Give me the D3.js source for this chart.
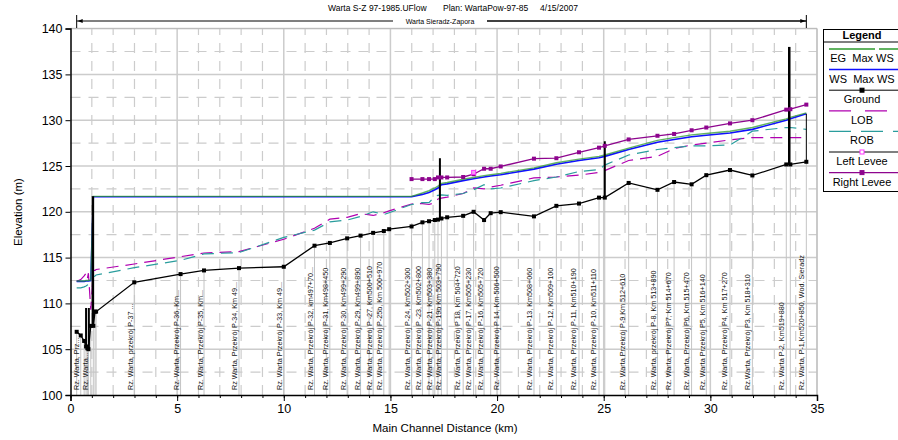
<!DOCTYPE html>
<html>
<head>
<meta charset="utf-8">
<script src="https://cdn.jsdelivr.net/npm/d3@7"></script>
<style>
  html, body { margin: 0; padding: 0; background: #ffffff; }
  svg text { font-family: "Liberation Sans", Arial, Helvetica, sans-serif; }
</style>
</head>
<body>
<svg id="chart" width="898" height="440"></svg>
<script>
// stations along main channel (km) shared by the profile series
const stationKm = [0.29, 0.48, 0.64, 0.73, 0.79, 0.84, 0.95, 1.07, 1.15, 1.20, 2.99, 5.16, 6.26, 7.90, 10.00,
  11.44, 12.16, 12.97, 13.60, 14.19, 14.69, 14.94, 15.99, 16.50, 16.81, 17.08, 17.23, 17.39, 17.66, 18.41,
  18.90, 19.39, 19.70, 20.17, 21.73, 22.78, 23.84, 24.78, 25.05, 26.17, 27.52, 28.30, 29.12, 29.81, 30.92,
  31.97, 33.56, 33.75, 34.50];

const ground = [106.9, 106.5, 105.9, 105.3, 105.1, 105.0, 107.55, 107.55, 109.1, 109.1, 112.3, 113.2, 113.6, 113.85, 114.0,
  116.3, 116.6, 117.1, 117.4, 117.7, 117.9, 118.1, 118.4, 118.85, 118.97, 119.1, 119.15, 119.27, 119.4, 119.56,
  120.0, 119.1, 119.85, 119.96, 119.5, 120.65, 120.9, 121.55, 121.55, 123.15, 122.4, 123.25, 123.0, 124.0, 124.56,
  123.97, 125.17, 125.17, 125.46];

const wsMax = [112.4, 112.4, 112.4, 112.45, 112.45, 112.45, 112.5, 121.65, 121.65, 121.65, 121.65, 121.65, 121.65, 121.65, 121.65,
  121.65, 121.65, 121.65, 121.65, 121.65, 121.65, 121.65, 121.65, 121.9, 122.1, 122.4, 122.6, 122.95, 123.05, 123.4,
  123.6, 123.8, 123.9, 124.05, 124.66, 125.2, 125.6, 125.9, 126.05, 126.8, 127.6, 127.9, 128.2, 128.35, 128.6,
  129.0, 130.0, 130.15, 130.7];

const egMax = [112.45, 112.45, 112.45, 112.5, 112.5, 112.5, 112.55, 121.68, 121.68, 121.68, 121.68, 121.68, 121.68, 121.68, 121.68,
  121.68, 121.68, 121.68, 121.68, 121.68, 121.68, 121.68, 121.68, 122.05, 122.3, 122.6, 122.8, 123.1, 123.2, 123.55,
  123.75, 123.95, 124.05, 124.2, 124.8, 125.35, 125.75, 126.05, 126.2, 126.95, 127.8, 128.1, 128.4, 128.55, 128.8,
  129.2, 130.15, 130.3, 130.8];

const lob = [112.4, 112.6, 113.0, 113.3, 112.7, 113.3, 109.3, 113.6, 113.6, 113.7, 114.3, 115.1, 115.5, 115.65, 117.0,
  118.2, 119.2, 119.4, 119.8, 119.6, 119.9, 120.1, 120.85, 120.9, 120.8, 121.0, 121.4, 121.5, 121.6, 122.0,
  122.6, 122.5, 122.7, 122.9, 123.7, 123.8, 124.0, 124.3, 124.5, 125.6, 126.05, 126.9, 127.3, 127.5, 127.85,
  128.1, 128.1, 128.1, 128.1];

const rob = [111.7, 111.7, 111.8, 111.9, 112.0, 112.1, 112.3, 112.9, 113.0, 113.1, 113.9, 114.7, 115.4, 115.55, 117.2,
  118.0, 118.9, 119.1, 119.5, 120.0, 119.7, 119.9, 120.8, 121.0, 121.0, 121.7, 121.8, 121.85, 121.8, 122.0,
  122.4, 122.95, 122.5, 122.6, 123.4, 123.8, 124.4, 124.6, 125.1, 126.2, 126.8, 127.0, 127.2, 127.2, 127.3,
  128.8, 129.2, 129.2, 129.0];

// right levee only exists from km 16 upstream
const rightLeveeKm = [15.99, 16.50, 16.81, 17.08, 17.23, 17.39, 17.66, 18.41, 18.90, 19.39, 19.70, 20.17, 21.73, 22.78,
  23.84, 24.78, 25.05, 26.17, 27.52, 28.30, 29.12, 29.81, 30.92, 31.97, 33.56, 33.75, 34.50];
const rightLevee = [123.57, 123.57, 123.57, 123.57, 123.75, 123.75, 123.75, 123.8, 124.1, 124.7, 124.7, 124.95, 125.8, 125.85,
  126.5, 127.0, 127.2, 127.9, 128.3, 128.5, 128.9, 129.2, 129.65, 130.0, 131.15, 131.2, 131.7];

const leftLeveeKm = [18.90];
const leftLevee = [124.3];

// black vertical structure lines: km, bottom, top, width
const structKm = [0.73, 0.86, 1.05, 17.32, 25.05, 33.70, 34.50];
const structBottom = [105.3, 105.0, 107.6, 119.2, 121.55, 125.17, 125.46];
const structTop = [109.5, 109.5, 121.7, 125.85, 127.7, 138.0, 130.7];
const structWidth = [2, 2, 2.5, 2, 2, 2.5, 1];

// cross-section labels at the bottom
const labelKm = [0.47, 0.91, 2.99, 5.16, 6.26, 7.90, 10.00, 11.44, 12.16, 12.97, 13.64, 14.19, 14.66, 15.97, 16.52,
  17.03, 17.46, 18.31, 18.83, 19.41, 20.16, 21.69, 22.70, 23.75, 24.72, 26.09, 27.50, 28.23, 29.06, 29.81,
  30.86, 31.95, 33.51, 34.45];
const labelText = [
  "Rz. Warta, Prz...", "Rz. Warta...", "Rz. Warta, przekrój P-37 ...", "Rz. Warta, Przekrój P-36, Km...",
  "Rz. Warta, Przekrój P-35, Km...", "Rz Warta, Przekrój P-34, Km 49...", "Rz. Warta Przekrój P-33, Km 49...",
  "Rz. Warta, Przekrój P-32, km497+70...", "Rz. Warta, Przekrój P-31, Km498+450", "Rz. Warta, Przekrój P-30, Km499+290",
  "Rz. Warta, Przekrój P-29, Km499+890", "Rz. Warta, Przekrój P -27, Km500+510", "Rz. Warta, Przekrój P-25b, Km 500+970",
  "Rz. Warta, Przekrój P-24, Km502+300", "Rz. Warta, Przekrój P -23, Km502+800", "Rz. Warta, Przekrój P-21, Km503+380",
  "Rz. Warta, Przekrój P-19b Km 503+790", "Rz. Warta,  Przekrój P 18, Km 504+720", "Rz. Warta, Przekrój P-17,  Km505+230",
  "Rz. Warta, Przekrój P-16, Km505+720", "Rz. Warta, Przekrój P 14,  Km 506+500", "Rz. Warta, Przekrój P-13, Km508+060",
  "Rz. Warta, Przekrój P-12, Km509+100", "Rz. Warta, Przekrój P-11, Km510+190", "Rz. Warta, Przekrój P-10, Km511+110",
  "Rz. Warta Przekrój P-9  Km 512+610", "Rz. Warta, przekrój P-8, Km 513+890", "Rz. Warta, Przekrój P7, Km 514+670",
  "Rz. Warta, Przekrój P6, Km 515+470", "Rz. Warta Przekrój P5, Km 516+140", "Rz. Warta, Przekrój P4, Km 517+270",
  "Rz.Warta, Przekrój P3, Km 518+310", "Rz. Warta  P-2, Km519+880", "Rz. Warta, P-1,Km520+850, Wod. Sieradz"
];

const legendLabels = ["EG  Max WS", "WS  Max WS", "Ground", "LOB", "ROB", "Left Levee", "Right Levee"];

const C = {
  eg: "#2e9a2e", ws: "#1010ff", ground: "#000000", lob: "#b000b0", rob: "#2a9d9d",
  leftMark: "#ff33ff", right: "#8e058e", grid: "#cccccc"
};

const svg = d3.select("#chart");
const x = d3.scaleLinear().domain([0, 35]).range([70.5, 817]);
const y = d3.scaleLinear().domain([100, 140]).range([395, 28.6]);

// grid
const grid = svg.append("g");
grid.selectAll("line.vmin").data(d3.range(1, 35).filter(d => d % 5 !== 0)).join("line")
  .attr("x1", d => x(d)).attr("x2", d => x(d)).attr("y1", y(100)).attr("y2", y(140))
  .attr("stroke", C.grid).attr("stroke-width", 1.2).attr("stroke-dasharray", "10,8");
grid.selectAll("line.hmin").data(d3.range(102.5, 140, 5)).join("line")
  .attr("x1", x(0)).attr("x2", x(35)).attr("y1", d => y(d)).attr("y2", d => y(d))
  .attr("stroke", C.grid).attr("stroke-width", 1.2).attr("stroke-dasharray", "10,8");
grid.selectAll("line.vmaj").data(d3.range(5, 36, 5)).join("line")
  .attr("x1", d => x(d)).attr("x2", d => x(d)).attr("y1", y(100)).attr("y2", y(140))
  .attr("stroke", C.grid).attr("stroke-width", 1.5);
grid.selectAll("line.hmaj").data(d3.range(105, 141, 5)).join("line")
  .attr("x1", x(0)).attr("x2", x(35)).attr("y1", d => y(d)).attr("y2", d => y(d))
  .attr("stroke", C.grid).attr("stroke-width", 1.5);

// station lines from the axis up to the ground
svg.append("g").selectAll("line").data(stationKm.map((k, i) => [k, ground[i]])).join("line")
  .attr("x1", d => x(d[0])).attr("x2", d => x(d[0])).attr("y1", y(100)).attr("y2", d => y(d[1]))
  .attr("stroke", "#c4c4c4").attr("stroke-width", 1);

// cross-section labels
svg.append("g").selectAll("text").data(labelKm.map((k, i) => [k, labelText[i]])).join("text")
  .attr("transform", d => "translate(" + (x(d[0]) - 1.5) + ",390) rotate(-90)")
  .attr("font-size", 7.2).attr("fill", "#111").text(d => d[1]);

const line = d3.line().defined(d => d[1] != null).x(d => x(d[0])).y(d => y(d[1]));
const pairs = arr => stationKm.map((k, i) => [k, arr[i]]);

svg.append("path").datum(pairs(lob)).attr("d", line).attr("fill", "none")
  .attr("stroke", C.lob).attr("stroke-width", 1.2).attr("stroke-dasharray", "12,7");
svg.append("path").datum(pairs(rob)).attr("d", line).attr("fill", "none")
  .attr("stroke", C.rob).attr("stroke-width", 1.2).attr("stroke-dasharray", "12,7");

svg.append("path").datum(pairs(wsMax)).attr("d", line).attr("fill", "none")
  .attr("stroke", C.ws).attr("stroke-width", 1.6);
svg.append("path").datum(pairs(egMax)).attr("d", line).attr("fill", "none")
  .attr("stroke", C.eg).attr("stroke-width", 1.4).attr("stroke-opacity", 0.75);

// structure lines
svg.append("g").selectAll("line").data(structKm.map((k, i) => i)).join("line")
  .attr("x1", i => x(structKm[i])).attr("x2", i => x(structKm[i]))
  .attr("y1", i => y(structBottom[i])).attr("y2", i => y(structTop[i]))
  .attr("stroke", "#000").attr("stroke-width", i => structWidth[i]);

// ground
svg.append("path").datum(pairs(ground)).attr("d", line).attr("fill", "none")
  .attr("stroke", C.ground).attr("stroke-width", 1.3);
svg.append("g").selectAll("rect").data(pairs(ground)).join("rect")
  .attr("x", d => x(d[0]) - 2).attr("y", d => y(d[1]) - 2).attr("width", 4).attr("height", 4)
  .attr("fill", C.ground);

// right levee
const rl = rightLeveeKm.map((k, i) => [k, rightLevee[i]]);
svg.append("path").datum(rl).attr("d", line).attr("fill", "none")
  .attr("stroke", C.right).attr("stroke-width", 1.3);
svg.append("g").selectAll("rect").data(rl).join("rect")
  .attr("x", d => x(d[0]) - 2).attr("y", d => y(d[1]) - 2).attr("width", 4).attr("height", 4)
  .attr("fill", C.right);

// left levee markers
svg.append("g").selectAll("rect").data(leftLeveeKm.map((k, i) => [k, leftLevee[i]])).join("rect")
  .attr("x", d => x(d[0]) - 2).attr("y", d => y(d[1]) - 2).attr("width", 4).attr("height", 4)
  .attr("fill", "#f2a0f2").attr("stroke", C.leftMark).attr("stroke-width", 1);

// frame top/right
svg.append("line").attr("x1", x(0)).attr("x2", x(35)).attr("y1", y(140)).attr("y2", y(140))
  .attr("stroke", "#bbb").attr("stroke-width", 1);
svg.append("line").attr("x1", x(35)).attr("x2", x(35)).attr("y1", y(140)).attr("y2", y(100))
  .attr("stroke", "#bbb").attr("stroke-width", 1);

// axes
const xAxis = svg.append("g").attr("transform", "translate(0," + y(100) + ")")
  .call(d3.axisBottom(x).tickValues(d3.range(0, 36, 5)).tickSize(6).tickPadding(3));
svg.append("g").attr("transform", "translate(0," + y(100) + ")")
  .call(d3.axisBottom(x).tickValues(d3.range(0, 36, 1)).tickSize(3).tickFormat(""))
  .call(g => g.select(".domain").remove());
const yAxis = svg.append("g").attr("transform", "translate(" + x(0) + ",0)")
  .call(d3.axisLeft(y).tickValues(d3.range(100, 141, 5)).tickSize(5).tickPadding(3));
[xAxis, yAxis].forEach(g => {
  g.select(".domain").attr("stroke", "#000").attr("stroke-width", 1.5);
  g.selectAll("text").attr("font-size", 12.5).attr("fill", "#000")
    .style("font-family", "'Liberation Sans', Arial, sans-serif");
});

svg.append("text").attr("x", 445).attr("y", 432).attr("text-anchor", "middle")
  .attr("font-size", 11.5).text("Main Channel Distance (km)");
svg.append("text").attr("transform", "translate(22,212) rotate(-90)").attr("text-anchor", "middle")
  .attr("font-size", 11.5).text("Elevation (m)");

// title
svg.append("text").attr("x", 453).attr("y", 11).attr("text-anchor", "middle").attr("font-size", 8.5)
  .attr("xml:space", "preserve")
  .text("Warta S-Z 97-1985.UFlow       Plan: WartaPow-97-85     4/15/2007");

// reach line
const reachY = 21;
svg.append("line").attr("x1", x(0.29)).attr("x2", 393).attr("y1", reachY).attr("y2", reachY).attr("stroke", "#000");
svg.append("line").attr("x1", 487).attr("x2", x(34.5)).attr("y1", reachY).attr("y2", reachY).attr("stroke", "#000").attr("stroke-width", 1.4);
[x(0.29), x(34.5)].forEach(px => {
  svg.append("line").attr("x1", px).attr("x2", px).attr("y1", 15).attr("y2", 28).attr("stroke", "#000");
});
svg.append("path").attr("d", `M${x(0.29) + 1},${reachY} l5,-2 l0,4 z`).attr("fill", "#000");
svg.append("path").attr("d", `M${x(34.5) - 1},${reachY} l-5,-2 l0,4 z`).attr("fill", "#000");
svg.append("text").attr("x", 440).attr("y", reachY + 2.5).attr("text-anchor", "middle").attr("font-size", 7)
  .text("Warta Sieradz-Zapora");

// legend
const lg = svg.append("g");
lg.append("rect").attr("x", 823.5).attr("y", 29.5).attr("width", 80).attr("height", 162)
  .attr("fill", "#fff").attr("stroke", "#000").attr("stroke-width", 1);
lg.append("text").attr("x", 862).attr("y", 39).attr("text-anchor", "middle").attr("font-size", 11)
  .attr("font-weight", "bold").text("Legend");
lg.append("line").attr("x1", 823.5).attr("x2", 903).attr("y1", 42).attr("y2", 42).attr("stroke", "#000");
const legStyle = [
  { c: C.eg, dash: "46,4", w: 1.3 }, { c: C.ws, dash: null, w: 1.5 }, { c: "#000", dash: null, w: 1, m: "#000" },
  { c: C.lob, dash: "22,14", w: 1.2 }, { c: C.rob, dash: "22,10", w: 1.2 }, { c: "#000", dash: null, w: 1, m: C.leftMark, open: true },
  { c: C.right, dash: null, w: 1.3, m: C.right }
];
legendLabels.forEach((lab, i) => {
  const ly = 49 + i * 20.6;
  const s = legStyle[i];
  lg.append("line").attr("x1", 829).attr("x2", 898).attr("y1", ly).attr("y2", ly)
    .attr("stroke", s.c).attr("stroke-width", s.w).attr("stroke-dasharray", s.dash);
  if (s.m) {
    lg.append("rect").attr("x", 860).attr("y", ly - 2).attr("width", 4).attr("height", 4)
      .attr("fill", s.open ? "#fff" : s.m).attr("stroke", s.m).attr("stroke-width", 1);
  }
  lg.append("text").attr("x", 862).attr("y", ly + 13).attr("text-anchor", "middle").attr("font-size", 11)
    .attr("xml:space", "preserve").text(lab);
});
</script>
</body>
</html>
